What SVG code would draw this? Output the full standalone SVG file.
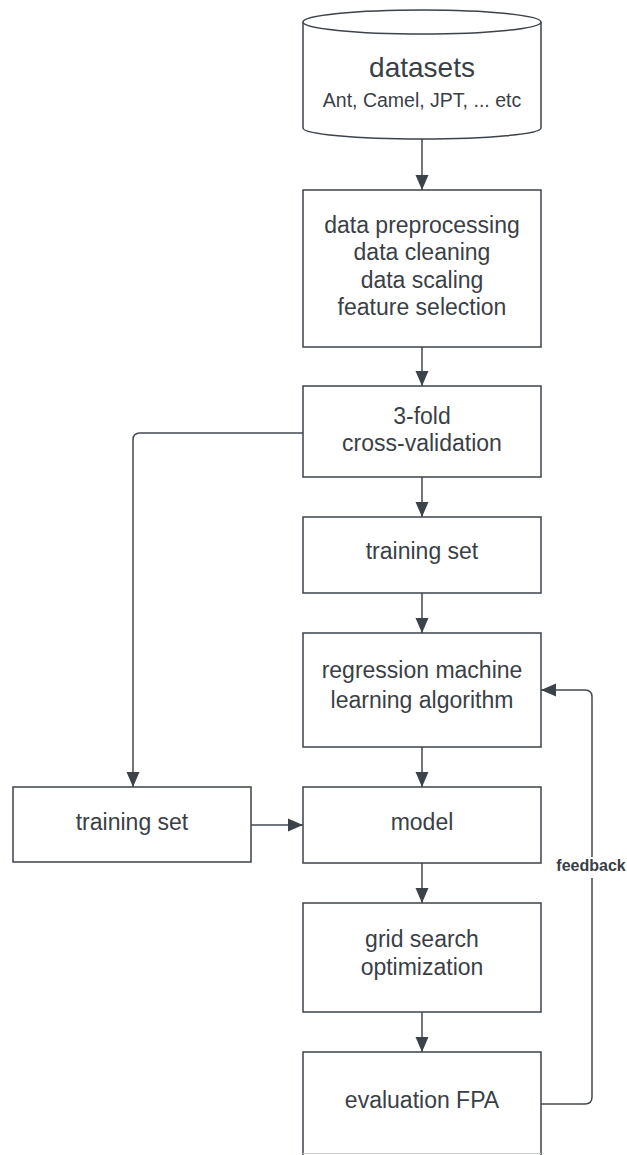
<svg xmlns="http://www.w3.org/2000/svg" width="627" height="1155" viewBox="0 0 627 1155">
  <style>
    .box { fill: #ffffff; stroke: #3d434b; stroke-width: 1.5; }
    .txt { font-family: "Liberation Sans", Arial, sans-serif; font-size: 23px; fill: #3a3f47; text-anchor: middle; }
    .big { font-size: 28px; }
    .sub { font-size: 19.5px; }
    .lbl { font-family: "Liberation Sans", Arial, sans-serif; font-size: 16px; font-weight: bold; fill: #3a3f47; text-anchor: middle; }
    .wire { fill: none; stroke: #444a52; stroke-width: 1.5; }
  </style>
  <defs>
    <marker id="arrow" markerUnits="userSpaceOnUse" markerWidth="15" markerHeight="14" viewBox="0 0 15 14" refX="15" refY="7" orient="auto">
      <path d="M0,0.5 L15,7 L0,13.5 Z" fill="#3c424a"/>
    </marker>
  </defs>

  <rect width="627" height="1155" fill="#ffffff"/>

  <!-- connectors -->
  <g id="connectors">
    <path class="wire" d="M422,139 V190" marker-end="url(#arrow)"/>
    <path class="wire" d="M422,347 V386" marker-end="url(#arrow)"/>
    <path class="wire" d="M422,477 V517" marker-end="url(#arrow)"/>
    <path class="wire" d="M422,593 V633" marker-end="url(#arrow)"/>
    <path class="wire" d="M422,747 V787" marker-end="url(#arrow)"/>
    <path class="wire" d="M422,863 V903" marker-end="url(#arrow)"/>
    <path class="wire" d="M422,1012 V1052" marker-end="url(#arrow)"/>
    <path class="wire" d="M303,433 H140 Q133,433 133,440 V787" marker-end="url(#arrow)"/>
    <path class="wire" d="M251,825 H303" marker-end="url(#arrow)"/>
    <path class="wire" d="M541,1104 H585 Q592,1104 592,1097 V878"/>
    <path class="wire" d="M592,857 V697 Q592,690 585,690 H541" marker-end="url(#arrow)"/>
    <text class="lbl" x="591" y="871">feedback</text>
  </g>

  <!-- datasets store -->
  <g id="datasets">
    <path class="box" d="M303,22 V128 A119,11 0 0 0 541,128 V22"/>
    <ellipse class="box" cx="422" cy="22" rx="119" ry="12"/>
    <text class="txt big" x="422" y="77">datasets</text>
    <text class="txt sub" x="422" y="107">Ant, Camel, JPT, ... etc</text>
  </g>

  <g id="preprocessing">
    <rect class="box" x="303" y="190" width="238" height="157"/>
    <text class="txt" x="422" y="233">data preprocessing</text>
    <text class="txt" x="422" y="260">data cleaning</text>
    <text class="txt" x="422" y="288">data scaling</text>
    <text class="txt" x="422" y="315">feature selection</text>
  </g>

  <g id="cross-validation">
    <rect class="box" x="303" y="386" width="238" height="91"/>
    <text class="txt" x="422" y="424">3-fold</text>
    <text class="txt" x="422" y="451">cross-validation</text>
  </g>

  <g id="training-set">
    <rect class="box" x="303" y="517" width="238" height="76"/>
    <text class="txt" x="422" y="559">training set</text>
  </g>

  <g id="algorithm">
    <rect class="box" x="303" y="633" width="238" height="114"/>
    <text class="txt" x="422" y="678">regression machine</text>
    <text class="txt" x="422" y="708">learning algorithm</text>
  </g>

  <g id="training-set-left">
    <rect class="box" x="13" y="787" width="238" height="75"/>
    <text class="txt" x="132" y="830">training set</text>
  </g>

  <g id="model">
    <rect class="box" x="303" y="787" width="238" height="76"/>
    <text class="txt" x="422" y="830">model</text>
  </g>

  <g id="grid-search">
    <rect class="box" x="303" y="903" width="238" height="109"/>
    <text class="txt" x="422" y="947">grid search</text>
    <text class="txt" x="422" y="975">optimization</text>
  </g>

  <!-- bottom edge runs off the page, only the upper part is shown -->
  <g id="evaluation">
    <path class="box" d="M303,1155 V1052 H541 V1155"/>
    <path d="M303,1153.5 H541" stroke="#c9ccd0" stroke-width="1"/>
    <text class="txt" x="422" y="1108">evaluation FPA</text>
  </g>
</svg>
